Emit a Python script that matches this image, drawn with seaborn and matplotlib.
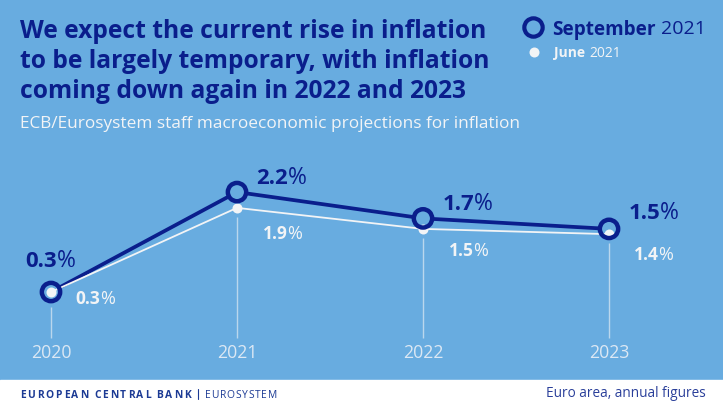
import matplotlib
matplotlib.use("Agg")
import matplotlib.pyplot as plt
from matplotlib.lines import Line2D
from matplotlib.patches import Rectangle
import pandas as pd
import seaborn as sns

BG = "#68ACE0"
NAVY = "#0A1E8C"
WHITE = "#F2F4F6"
W, H = 723, 404

sns.set_theme(style="white")
plt.rcParams["font.family"] = ["Open Sans", "DejaVu Sans"]

df = pd.DataFrame({
    "year": [2020, 2021, 2022, 2023],
    "september": [0.3, 2.2, 1.7, 1.5],
    "june": [0.3, 1.9, 1.5, 1.4],
})

fig = plt.figure(figsize=(W / 100, H / 100), dpi=100, facecolor=BG)
ax = fig.add_axes([0, 0, 1, 1])
ax.patch.set_alpha(0)
ax.set_axis_off()
# pixel layout: 186 px per year, 52.6 px per point, zero at y=307.8
ax.set_xlim(2020 - 51 / 186, 2020 + (W - 51) / 186)
ax.set_ylim(-(H - 307.8) / 52.6, 307.8 / 52.6)

fig.add_artist(Rectangle((0, 0), 1, 24 / H, transform=fig.transFigure, color="white", zorder=0))

rend = fig.canvas.get_renderer()


def px(x, y):
    return x / W, 1 - y / H


def two_part(x, y, bold, regular, size, color, size2=None, gap=0.0):
    # bold part followed by a regular part on the same baseline
    t = fig.text(*px(x, y), bold, fontsize=size, fontweight="bold", color=color, va="baseline")
    right = t.get_window_extent(rend).x1
    fig.text((right + gap) / W, 1 - y / H, regular, fontsize=size2 or size, color=color, va="baseline")


def spaced(x, y, text, size, weight, track):
    # matplotlib has no letter spacing, so set the footer letter by letter
    for ch in text:
        if ch == " ":
            x += size * 0.5
            continue
        t = fig.text(*px(x, y), ch, fontsize=size, fontweight=weight, color="#1C3A94", va="baseline")
        x = t.get_window_extent(rend).x1 + track
    return x


# stems from the axis labels up to the points
stem_tops = [(306.5 - 307.8) / -52.6, (216.7 - 307.8) / -52.6, (238 - 307.8) / -52.6, (243 - 307.8) / -52.6]
ax.vlines(df["year"], (337.5 - 307.8) / -52.6, stem_tops, color=WHITE, alpha=0.6, lw=1.0, zorder=1)

sns.lineplot(data=df, x="year", y="september", color=NAVY, lw=2.7, ax=ax, zorder=2)
sns.scatterplot(data=df, x="year", y="september", s=13 ** 2, color=BG, linewidth=0, ax=ax, zorder=3)
sns.lineplot(data=df, x="year", y="june", color=WHITE, lw=1.3, ax=ax, zorder=4)
sns.scatterplot(data=df, x="year", y="june", s=7.2 ** 2, color=WHITE, linewidth=0, ax=ax, zorder=5)
sns.scatterplot(data=df, x="year", y="september", s=13.2 ** 2, facecolor="none", edgecolor=NAVY,
                linewidth=3.2, ax=ax, zorder=6)
ax.set_axis_off()

# value labels, pixel positions
sep_pos = [(25.5, 267), (256.5, 184), (442.5, 210), (628.5, 219)]
jun_pos = [(75.5, 304), (262.5, 239), (448.5, 256), (633.5, 260)]
for v, (x, y) in zip(df["september"], sep_pos):
    two_part(x, y, f"{v:.1f}", "%", 16, NAVY, size2=16.5)
for v, (x, y) in zip(df["june"], jun_pos):
    two_part(x, y, f"{v:.1f}", "%", 12.5, WHITE, size2=13)

for yr in df["year"]:
    ax.text(yr, -(358 - 307.8) / 52.6, str(yr), ha="center", va="baseline", fontsize=12.7, color="#DCE8F4")

# title block
for line, y in zip(["We expect the current rise in inflation",
                    "to be largely temporary, with inflation",
                    "coming down again in 2022 and 2023"], [38, 68.5, 98.5]):
    fig.text(*px(20, y), line, fontsize=17.75, fontweight="bold", color=NAVY, va="baseline")
fig.text(*px(20, 128), "ECB/Eurosystem staff macroeconomic projections for inflation",
         fontsize=12.38, color=WHITE, va="baseline")

# legend
fig.add_artist(Line2D([533 / W], [1 - 27 / H], marker="o", ms=13.2, mew=3.0, mfc="none", mec=NAVY,
                      transform=fig.transFigure))
fig.add_artist(Line2D([533.5 / W], [1 - 52 / H], marker="o", ms=7.2, mew=0, mfc=WHITE,
                      transform=fig.transFigure))
two_part(552, 34.5, "September", "2021", 13.7, NAVY, size2=14, gap=5)
two_part(554, 57, "June", "2021", 10, WHITE, gap=4)

# footer
spaced(20, 397.5, "EUROPEAN CENTRAL BANK", 7.4, "bold", 1.8)
fig.add_artist(Line2D([198 / W, 198 / W], [1 - 389 / H, 1 - 399 / H], color="#1C3A94", lw=0.8,
                      transform=fig.transFigure))
spaced(205, 397.5, "EUROSYSTEM", 7.4, "normal", 0.75)
fig.text(*px(706, 397), "Euro area, annual figures", fontsize=9.8, color="#2A3F9A", ha="right", va="baseline")

fig.savefig("out.png", dpi=100, facecolor=BG)
